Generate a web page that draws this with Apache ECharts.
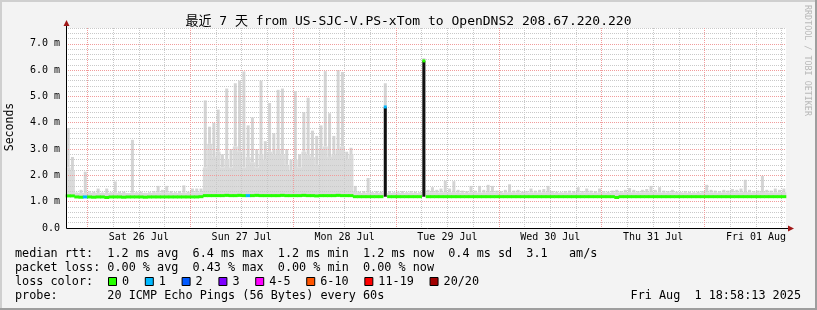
<!DOCTYPE html>
<html><head><meta charset="utf-8">
<script src="https://cdn.jsdelivr.net/npm/echarts@6/dist/echarts.min.js"></script>
<style>html,body{margin:0;padding:0;background:#f3f3f3;}#chart{width:817px;height:310px;}</style>
</head><body><div id="chart"></div>
<script>
// ---------- data ----------
const titleText = '最近 7 天 from US-SJC-V.PS-xTom to OpenDNS2 208.67.220.220';
const yAxisName = 'Seconds';
const sideCredit = 'RRDTOOL / TOBI OETIKER';
const dayLabels = ['Sat 26 Jul','Sun 27 Jul','Mon 28 Jul','Tue 29 Jul','Wed 30 Jul','Thu 31 Jul','Fri 01 Aug'];
const hoursSpan = 168;      // 7 days, one bin per hour, starting Fri 25 Jul 18:58
const firstMidnight = 5;    // hour index of Sat 26 Jul 00:00
const yMax = 7.6;           // ms
const yMajor = 1;
const yMinor = 0.2;

// median rtt per hour (ms)
const median = [
1.22,1.22,1.18,1.17,1.18,1.18,1.17,1.18,1.18,1.16,1.18,1.18,
1.18,1.17,1.18,1.18,1.18,1.18,1.17,1.18,1.18,1.18,1.18,1.18,
1.18,1.18,1.18,1.18,1.18,1.18,1.18,1.19,1.23,1.23,1.23,1.23,
1.23,1.24,1.23,1.23,1.24,1.23,1.23,1.23,1.24,1.23,1.23,1.23,
1.23,1.23,1.24,1.23,1.23,1.23,1.23,1.24,1.23,1.23,1.22,1.23,
1.23,1.23,1.23,1.24,1.23,1.23,1.23,1.19,1.19,1.19,1.19,1.19,
1.19,1.19,4.6,1.19,1.19,1.19,1.19,1.19,1.19,1.19,1.19,6.35,
1.19,1.19,1.19,1.19,1.19,1.19,1.19,1.19,1.19,1.19,1.19,1.19,
1.19,1.19,1.19,1.19,1.19,1.19,1.19,1.19,1.19,1.19,1.19,1.19,
1.19,1.19,1.19,1.19,1.19,1.19,1.19,1.19,1.19,1.19,1.19,1.19,
1.19,1.19,1.19,1.19,1.19,1.19,1.19,1.19,1.16,1.19,1.19,1.19,
1.19,1.19,1.19,1.19,1.19,1.19,1.19,1.19,1.19,1.19,1.19,1.19,
1.19,1.19,1.19,1.19,1.19,1.19,1.19,1.19,1.19,1.19,1.19,1.19,
1.19,1.19,1.19,1.19,1.19,1.19,1.19,1.19,1.19,1.19,1.19,1.19
];
// dense part of the smoke per hour (ms)
const smokeBody = [
2.3,2.2,1.33,1.33,1.33,1.34,1.33,1.33,1.33,1.33,1.33,1.34,
1.33,1.33,1.33,1.34,1.33,1.33,1.33,1.33,1.34,1.35,1.34,1.35,
1.33,1.33,1.33,1.34,1.33,1.35,1.35,1.36,2.3,3.2,2.7,2.9,
2.3,2.6,2.3,3.1,2.9,2.3,2.7,2.5,2.3,2.8,2.6,2.9,
2.8,3.0,2.8,2.4,2.2,2.6,2.3,2.9,2.8,2.7,2.4,3.0,
3.1,2.7,2.8,3.0,3.1,2.6,2.8,1.4,1.33,1.33,1.34,1.33,
1.33,1.33,1.33,1.33,1.33,1.34,1.33,1.33,1.34,1.33,1.33,1.33,
1.35,1.36,1.34,1.35,1.36,1.35,1.36,1.34,1.34,1.33,1.35,1.34,
1.35,1.34,1.36,1.35,1.34,1.33,1.34,1.36,1.34,1.35,1.33,1.34,
1.35,1.34,1.35,1.35,1.36,1.34,1.33,1.33,1.34,1.34,1.33,1.35,
1.34,1.35,1.34,1.33,1.35,1.34,1.33,1.34,1.35,1.34,1.35,1.35,
1.35,1.34,1.35,1.35,1.36,1.35,1.35,1.34,1.34,1.35,1.33,1.33,
1.34,1.33,1.33,1.33,1.34,1.36,1.35,1.34,1.34,1.35,1.34,1.35,
1.35,1.35,1.37,1.35,1.34,1.34,1.37,1.35,1.34,1.35,1.35,1.36
];
// highest ping per hour (ms)
const smokeMax = [
3.8,2.7,1.35,1.45,2.14,1.4,1.38,1.5,1.35,1.5,1.36,1.77,
1.38,1.38,1.33,3.35,1.36,1.38,1.34,1.36,1.4,1.6,1.45,1.6,
1.4,1.36,1.4,1.62,1.38,1.5,1.5,1.5,4.85,3.85,4.0,4.5,
2.8,5.3,3.0,5.5,5.6,5.95,3.9,4.2,3.0,5.6,3.3,4.75,
3.6,5.25,5.3,3.0,2.6,5.2,2.8,4.4,4.95,3.7,3.5,3.9,
5.96,4.36,3.5,6.0,5.93,2.9,3.05,1.6,1.38,1.4,1.9,1.36,
1.4,1.38,5.5,1.4,1.36,1.38,1.4,1.36,1.4,1.38,1.36,6.45,
1.45,1.55,1.45,1.5,1.8,1.5,1.78,1.45,1.42,1.4,1.6,1.42,
1.6,1.45,1.64,1.6,1.42,1.4,1.45,1.66,1.42,1.45,1.38,1.4,
1.5,1.42,1.45,1.48,1.6,1.4,1.38,1.36,1.4,1.42,1.4,1.55,
1.4,1.5,1.42,1.4,1.5,1.4,1.38,1.42,1.45,1.4,1.45,1.52,
1.45,1.4,1.45,1.48,1.6,1.45,1.55,1.42,1.4,1.45,1.38,1.36,
1.4,1.38,1.36,1.38,1.4,1.64,1.45,1.42,1.4,1.45,1.42,1.48,
1.45,1.5,1.83,1.45,1.4,1.42,1.98,1.45,1.42,1.5,1.45,1.5
];
// lost pings (of 20) per hour
const lossCount = [
0,0,0,0,1,0,0,0,0,0,0,0, 0,0,0,0,0,0,0,0,0,0,0,0,
0,0,0,0,0,0,0,0,0,0,0,0, 0,0,0,0,0,0,1,0,0,0,0,0,
0,0,0,0,0,0,0,0,0,0,0,0, 0,0,0,0,0,0,0,0,0,0,0,0,
0,0,1,0,0,0,0,0,0,0,0,0, 0,0,0,0,0,0,0,0,0,0,0,0,
0,0,0,0,0,0,0,0,0,0,0,0, 0,0,0,0,0,0,0,0,0,0,0,0,
0,0,0,0,0,0,0,0,0,0,0,0, 0,0,0,0,0,0,0,0,0,0,0,0,
0,0,0,0,0,0,0,0,0,0,0,0, 0,0,0,0,0,0,0,0,0,0,0,0
];
const lossLabels = ['0','1','2','3','4-5','6-10','11-19','20/20'];
const lossUpper  = [0,1,2,3,5,10,19,20];
const lossColors = ['#26ff00','#00b8ff','#0059ff','#7e00ff','#ff00ff','#ff5500','#ff0000','#a10000'];

const legendRtt   = 'median rtt:  1.2 ms avg  6.4 ms max  1.2 ms min  1.2 ms now  0.4 ms sd  3.1   am/s';
const legendLoss  = 'packet loss: 0.00 % avg  0.43 % max  0.00 % min  0.00 % now';
const legendColor = 'loss color:';
const legendProbe = 'probe:       20 ICMP Echo Pings (56 Bytes) every 60s';
const stampText   = 'Fri Aug  1 18:58:13 2025';

// ---------- rendering ----------
const MONO = "'DejaVu Sans Mono', 'Liberation Mono', monospace";
const TITLE_FONT = "'DejaVu Sans Mono', 'Noto Sans CJK SC', monospace";
const G = {left: 66, right: 31, top: 28, bottom: 82};
const W = 817, H = 310;
const plotBottom = H - G.bottom, plotRight = W - G.right;

const hourTicks = [];
for (let h = 0; h <= hoursSpan; h++) hourTicks.push(String(h));

function colorIndex(c) {
  for (let k = 0; k < lossUpper.length; k++) if (c <= lossUpper[k]) return k;
  return lossUpper.length - 1;
}

const smokeData = smokeMax.map((m, i) => [i + 0.5, median[i], smokeBody[i], m]);
// neighbour level used to detect isolated median jumps
const medianColored = median.map((v, i) => {
  const prev = i > 0 ? median[i - 1] : v, next = i < median.length - 1 ? median[i + 1] : v;
  return [i + 0.5, v, lossCount[i], Math.min(prev, next)];
});

const minorStyle = {color: '#c9c9c9', width: 1, type: [1, 1]};
const majorStyle = {color: '#f19c9c', width: 1, type: [1, 1]};

const isMinorX = (idx) => idx > 0 && idx < hoursSpan && (idx - firstMidnight) % 6 === 0 && (idx - firstMidnight) % 24 !== 0;
const isMajorX = (idx) => idx > 0 && idx < hoursSpan && (idx - firstMidnight) % 24 === 0;
const isLabelX = (idx) => (idx - firstMidnight - 12) % 24 === 0 && idx > 0;

const graphics = [
  {type:'rect', shape:{x:0,y:0,width:W,height:2}, style:{fill:'#cfcfcf'}, silent:true},
  {type:'rect', shape:{x:0,y:0,width:2,height:H}, style:{fill:'#cfcfcf'}, silent:true},
  {type:'rect', shape:{x:0,y:H-2,width:W,height:2}, style:{fill:'#9e9e9e'}, silent:true},
  {type:'rect', shape:{x:W-2,y:0,width:2,height:H}, style:{fill:'#9e9e9e'}, silent:true},
  {type:'line', shape:{x1:G.left+0.5,y1:plotBottom+0.5,x2:plotRight+3,y2:plotBottom+0.5}, style:{stroke:'#000',lineWidth:1}, z:10},
  {type:'line', shape:{x1:G.left+0.5,y1:plotBottom+0.5,x2:G.left+0.5,y2:G.top-3}, style:{stroke:'#000',lineWidth:1}, z:10},
  {type:'polygon', shape:{points:[[plotRight+2,plotBottom-2.5],[plotRight+2,plotBottom+3.5],[plotRight+8,plotBottom+0.5]]}, style:{fill:'#a01818'}, z:10},
  {type:'polygon', shape:{points:[[G.left-2.5,G.top-2],[G.left+3.5,G.top-2],[G.left+0.5,G.top-8]]}, style:{fill:'#a01818'}, z:10},
  {type:'text', x: W/2, y: 21.5, style:{text: titleText, fill:'#000', fontSize:13, fontFamily:TITLE_FONT, textAlign:'center', textVerticalAlign:'middle', align:'center', verticalAlign:'middle'}},
  {type:'text', x: 10, y: 127, rotation: Math.PI/2, style:{text: yAxisName, fill:'#000', fontSize:11.5, fontFamily:MONO, textAlign:'center', textVerticalAlign:'middle', align:'center', verticalAlign:'middle'}},
  {type:'text', x: 807, y: 5, rotation: -Math.PI/2, style:{text: sideCredit, fill:'#b8b8b8', fontSize:8.4, fontFamily:MONO, textAlign:'left', textVerticalAlign:'middle', align:'left', verticalAlign:'middle'}}
];
const legendFont = {fill:'#000', fontSize:11.8, fontFamily:MONO, textAlign:'left', textVerticalAlign:'middle', align:'left', verticalAlign:'middle'};
[[legendRtt,254.3],[legendLoss,268.3],[legendColor,282.3],[legendProbe,296.2]].forEach(([t,y]) => {
  graphics.push({type:'text', x:15, y:y, style:Object.assign({text:t}, legendFont)});
});
graphics.push({type:'text', x:801, y:296.2, style:Object.assign({}, legendFont, {text: stampText, textAlign:'right', align:'right'})});
const charW = 11.8 * 0.602;
let bx = 108;
lossLabels.forEach((lab, k) => {
  graphics.push({type:'rect', shape:{x:bx+0.5, y:277.5, width:8, height:8}, style:{fill:lossColors[k], stroke:'#000', lineWidth:1}});
  graphics.push({type:'text', x:bx+14, y:282.3, style:Object.assign({text:lab}, legendFont)});
  bx += 29.7 + lab.length * charW;
});

const option = {
  backgroundColor: '#f3f3f3',
  animation: false,
  grid: {left:G.left, right:G.right, top:G.top, bottom:G.bottom, show:true, backgroundColor:'#ffffff', borderWidth:0, containLabel:false, outerBoundsMode:'none'},
  xAxis: [
    {type:'value', min:0, max:hoursSpan, show:false},
    {type:'category', data:hourTicks, boundaryGap:false, position:'bottom', z:2,
      axisLine:{show:false}, axisTick:{show:false},
      axisLabel:{show:true, interval:(i)=>isLabelX(i), margin:4, color:'#000', fontSize:10, fontFamily:MONO,
        formatter:(v)=>{ const h = Number(v); const k = (h - firstMidnight - 12)/24; return dayLabels[k] || ''; }},
      splitLine:{show:true, interval:(i)=>isMinorX(i), lineStyle:minorStyle}},
    {type:'category', data:hourTicks, boundaryGap:false, position:'top', z:3,
      axisLine:{show:false}, axisTick:{show:false}, axisLabel:{show:false},
      splitLine:{show:true, interval:(i)=>isMajorX(i), lineStyle:majorStyle}}
  ],
  yAxis: [
    {type:'value', min:0, max:yMax, interval:yMajor, position:'left', z:3,
      axisLine:{show:false}, axisTick:{show:false},
      axisLabel:{margin:6, color:'#000', fontSize:10, fontFamily:MONO, showMaxLabel:false,
        formatter:(v)=> v === 0 ? '0.0' : (Math.abs(v - Math.round(v)) < 1e-6 ? v.toFixed(1) + ' m' : '')},
      splitLine:{show:true, showMinLine:false, showMaxLine:false, lineStyle:majorStyle}},
    {type:'value', min:0, max:yMax, interval:yMinor, position:'right', z:2,
      axisLine:{show:false}, axisTick:{show:false}, axisLabel:{show:false},
      splitLine:{show:true, showMinLine:false, lineStyle:minorStyle}}
  ],
  series: [
    {type:'custom', name:'smoke', xAxisIndex:0, yAxisIndex:0, z:1, silent:true,
      encode:{x:0, y:[1,2,3]}, data: smokeData,
      renderItem:(params, api) => {
        const x = api.value(0), base = api.value(1), body = api.value(2), top = api.value(3);
        const w = api.size([1, 0])[0];
        const pB = api.coord([x, base]), pD = api.coord([x, body]), pT = api.coord([x, top]);
        const kids = [];
        if (body > base) kids.push({type:'rect', shape:{x:pB[0]-w/2-0.3, y:pD[1], width:w+0.6, height:pB[1]-pD[1]}, style:{fill:'#dadada'}});
        const sw = w * 0.7;
        if (top > body) kids.push({type:'rect', shape:{x:pT[0]-sw/2, y:pT[1], width:sw, height:pD[1]-pT[1]}, style:{fill:'#d4d4d4'}});
        return {type:'group', children:kids};
      }},
    {type:'custom', name:'median', xAxisIndex:0, yAxisIndex:0, z:5, silent:true,
      encode:{x:0, y:1}, data: medianColored,
      renderItem:(params, api) => {
        const x = api.value(0), v = api.value(1), c = api.value(2), nb = api.value(3);
        const w = api.size([1, 0])[0];
        const p = api.coord([x, v]);
        const col = lossColors[colorIndex(c)];
        if (v - nb > 0.5) {
          const pn = api.coord([x, nb]);
          return {type:'group', children:[
            {type:'rect', shape:{x:p[0]-1.5, y:p[1], width:3, height:pn[1]-p[1]}, style:{fill:'#111'}},
            {type:'rect', shape:{x:p[0]-1.5, y:p[1]-1.5, width:3, height:3}, style:{fill:col}}
          ]};
        }
        return {type:'rect', shape:{x:p[0]-w/2-0.3, y:p[1]-1.5, width:w+0.6, height:3}, style:{fill: col}};
      }}
  ],
  graphic: graphics
};

const chart = echarts.init(document.getElementById('chart'), null, {renderer:'canvas'});
chart.setOption(option);
</script></body></html>
